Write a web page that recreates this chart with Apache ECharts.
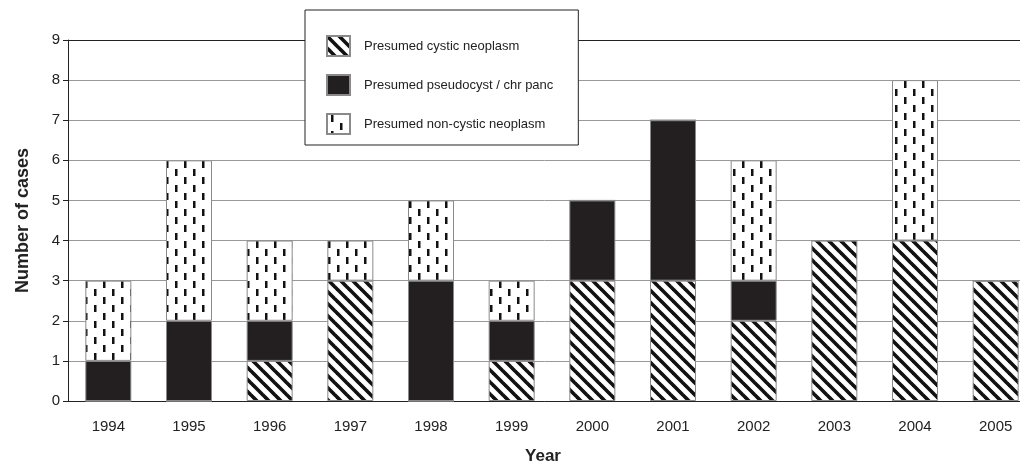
<!DOCTYPE html>
<html><head><meta charset="utf-8">
<script src="https://cdn.jsdelivr.net/npm/echarts@6/dist/echarts.min.js"></script>
<style>html,body{margin:0;padding:0;background:#fff}#c{width:1020px;height:465px}</style>
</head><body><div id="c"></div>
<script>
var years = ['1994','1995','1996','1997','1998','1999','2000','2001','2002','2003','2004','2005'];
var cysticNeoplasm = [0,0,1,3,0,1,3,3,2,4,4,3];
var pseudocyst = [1,2,1,0,3,1,2,4,1,0,0,0];
var nonCysticNeoplasm = [2,4,2,1,2,1,0,0,3,0,4,0];
var yTicks = [0,1,2,3,4,5,6,7,8,9];

function diagPattern(){
  var s = 12, c = document.createElement('canvas');
  c.width = s; c.height = s;
  var g = c.getContext('2d');
  g.fillStyle = '#fff'; g.fillRect(0,0,s,s);
  g.strokeStyle = '#111'; g.lineWidth = 3.6;
  for (var k=-1;k<=1;k++){
    g.beginPath(); g.moveTo(-2, -2 + k*s); g.lineTo(s+2, s+2 + k*s); g.stroke();
  }
  return c;
}
function dashPattern(){
  var w = 18, h = 16, c = document.createElement('canvas');
  c.width = w; c.height = h;
  var g = c.getContext('2d');
  g.fillStyle = '#fff'; g.fillRect(0,0,w,h);
  g.fillStyle = '#111';
  g.fillRect(4, 1, 2.5, 7);
  g.fillRect(13, 9, 2.5, 7);
  return c;
}
var chart = echarts.init(document.getElementById('c'), null, {renderer:'canvas'});
var gridColors = yTicks.map(function(v,i){ return i === yTicks.length-1 ? '#222' : '#999'; });
var border = {borderColor:'#8a8a8a', borderWidth:1};
chart.setOption({
  animation:false,
  backgroundColor:'#fff',
  title:{text:'Year', left:538, top:443, textAlign:'center',
    textStyle:{fontFamily:'Liberation Sans, Arial', fontSize:17, fontWeight:'bold', color:'#222'}},
  grid:{left:68, top:40, width:968, height:361, containLabel:false, outerBoundsMode:'none'},
  legend:{
    orient:'vertical', left:305, top:10, width:274,
    backgroundColor:'#fff', borderColor:'#222', borderWidth:1,
    padding:[25, 25, 10, 21], itemWidth:23, itemHeight:20, itemGap:17, icon:'rect',
    textStyle:{fontFamily:'Liberation Sans, Arial', fontSize:13, color:'#222', padding:[0,0,0,9]},
    data:['Presumed cystic neoplasm','Presumed pseudocyst / chr panc','Presumed non-cystic neoplasm']
  },
  xAxis:{type:'category', data:years,
    axisLine:{lineStyle:{color:'#222', width:1}},
    axisTick:{length:5, lineStyle:{color:'#222'}},
    axisLabel:{fontFamily:'Liberation Sans, Arial', fontSize:15, color:'#222', margin:18}
  },
  yAxis:{type:'value', min:0, max:9, interval:1,
    name:'Number of cases', nameLocation:'middle', nameGap:36,
    nameTextStyle:{fontFamily:'Liberation Sans, Arial', fontSize:18, fontWeight:'bold', color:'#222'},
    axisLine:{show:true, lineStyle:{color:'#222'}},
    axisTick:{show:true, length:5, lineStyle:{color:'#222'}},
    axisLabel:{fontFamily:'Liberation Sans, Arial', fontSize:15, color:'#222', margin:8},
    splitLine:{show:true, lineStyle:{color:gridColors, width:1}}
  },
  series:[
    {name:'Presumed cystic neoplasm', type:'bar', stack:'a', data:cysticNeoplasm, barWidth:46,
      itemStyle:Object.assign({color:{image:diagPattern(), repeat:'repeat'}}, border)},
    {name:'Presumed pseudocyst / chr panc', type:'bar', stack:'a', data:pseudocyst, barWidth:46,
      itemStyle:Object.assign({color:'#231f20'}, border)},
    {name:'Presumed non-cystic neoplasm', type:'bar', stack:'a', data:nonCysticNeoplasm, barWidth:46,
      itemStyle:Object.assign({color:{image:dashPattern(), repeat:'repeat'}}, border)}
  ]
});
</script></body></html>
